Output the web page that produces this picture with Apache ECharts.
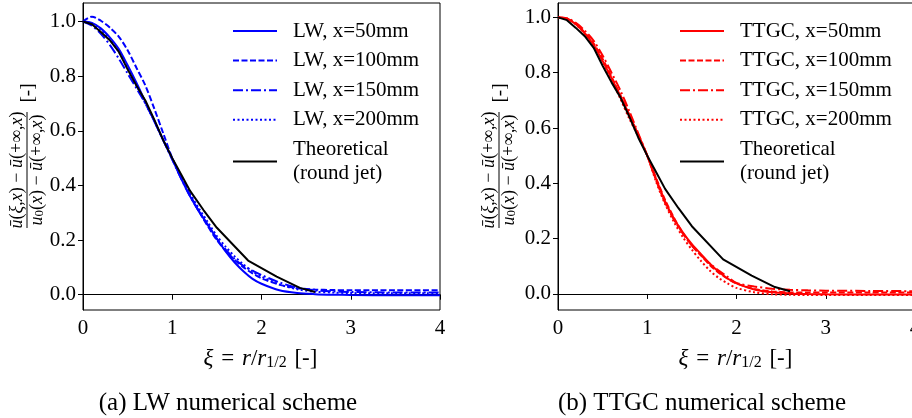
<!DOCTYPE html>
<html><head><meta charset="utf-8">
<script src="https://cdn.jsdelivr.net/npm/echarts@6/dist/echarts.min.js"></script>
<style>html,body{margin:0;padding:0;background:#fff}#c{width:912px;height:418px}</style>
</head><body><div id="c"></div>
<script>
// ---- data ----
const xiNum = [0, 0.1, 0.2, 0.3, 0.4, 0.5, 0.6, 0.7, 0.8, 0.9, 1.0, 1.1, 1.2, 1.3, 1.4, 1.5, 1.6, 1.7, 1.8, 1.9, 2.0, 2.2, 2.4, 2.6, 2.8, 3.0, 3.5, 4.0];
const lw50  = [1.0, 0.995, 0.975, 0.942, 0.9, 0.84, 0.775, 0.705, 0.635, 0.565, 0.497, 0.425, 0.36, 0.305, 0.255, 0.205, 0.158, 0.118, 0.085, 0.058, 0.04, 0.016, 0.006, 0.002, 0.0, -0.001, -0.002, -0.002];
const lw100 = [1.0, 1.018, 1.003, 0.978, 0.945, 0.895, 0.83, 0.765, 0.68, 0.59, 0.5, 0.43, 0.365, 0.305, 0.25, 0.2, 0.16, 0.127, 0.1, 0.078, 0.06, 0.037, 0.024, 0.019, 0.017, 0.016, 0.016, 0.016];
const lw150 = [1.0, 0.985, 0.955, 0.915, 0.865, 0.81, 0.755, 0.70, 0.635, 0.565, 0.495, 0.425, 0.36, 0.305, 0.255, 0.205, 0.165, 0.13, 0.105, 0.088, 0.072, 0.045, 0.026, 0.016, 0.012, 0.01, 0.008, 0.008];
const lw200 = [1.0, 0.993, 0.97, 0.935, 0.89, 0.83, 0.765, 0.70, 0.635, 0.565, 0.5, 0.43, 0.37, 0.315, 0.265, 0.215, 0.175, 0.14, 0.11, 0.085, 0.066, 0.038, 0.02, 0.011, 0.008, 0.006, 0.005, 0.005];
const ttgc50  = [1.0, 0.995, 0.975, 0.942, 0.9, 0.842, 0.78, 0.715, 0.645, 0.575, 0.5, 0.415, 0.335, 0.272, 0.222, 0.18, 0.145, 0.11, 0.08, 0.056, 0.038, 0.016, 0.006, 0.002, 0.0, -0.001, -0.002, -0.002];
const ttgc100 = [1.0, 0.995, 0.977, 0.945, 0.905, 0.85, 0.785, 0.718, 0.647, 0.574, 0.5, 0.418, 0.34, 0.275, 0.22, 0.175, 0.14, 0.105, 0.077, 0.055, 0.038, 0.018, 0.009, 0.006, 0.005, 0.005, 0.005, 0.005];
const ttgc150 = [1.0, 0.997, 0.98, 0.952, 0.915, 0.862, 0.8, 0.735, 0.66, 0.58, 0.5, 0.41, 0.33, 0.268, 0.218, 0.175, 0.14, 0.11, 0.085, 0.062, 0.04, 0.027, 0.019, 0.015, 0.013, 0.012, 0.011, 0.01];
const ttgc200 = [1.0, 0.995, 0.975, 0.94, 0.897, 0.84, 0.775, 0.705, 0.633, 0.57, 0.5, 0.405, 0.325, 0.26, 0.205, 0.16, 0.12, 0.085, 0.058, 0.038, 0.022, 0.006, -0.001, -0.003, -0.004, -0.004, -0.004, -0.004];
const xiTheory = [0, 0.1, 0.2, 0.3, 0.4, 0.5, 0.6, 0.7, 0.8, 0.9, 1.0, 1.1, 1.2, 1.35, 1.5, 1.85, 2.17, 2.43, 2.6];
const theory   = [1.0, 0.99, 0.962, 0.932, 0.89, 0.825, 0.765, 0.71, 0.64, 0.565, 0.5, 0.44, 0.38, 0.31, 0.245, 0.125, 0.066, 0.025, 0.01];
const xTicks = [0, 1, 2, 3, 4];
const yTicks = [0.0, 0.2, 0.4, 0.6, 0.8, 1.0];
const namesLW = ['LW, x=50mm', 'LW, x=100mm', 'LW, x=150mm', 'LW, x=200mm'];
const namesTTGC = ['TTGC, x=50mm', 'TTGC, x=100mm', 'TTGC, x=150mm', 'TTGC, x=200mm'];
const theoryName = 'Theoretical\n(round jet)';
const captions = ['(a) LW numerical scheme', '(b) TTGC numerical scheme'];

// ---- chart ----
const FONT = 'Liberation Serif';
const dashes = ['solid', [6, 2.5], [10, 3, 2, 3], [2, 2.5]];
const pairs = (xs, ys) => xs.map((x, i) => [x, ys[i]]);

function mkSeries(name, xs, ys, color, dash, idx, smooth) {
  return {
    type: 'line', name, xAxisIndex: idx, yAxisIndex: idx,
    data: pairs(xs, ys), symbol: 'none', smooth: smooth ? 0.3 : false,
    lineStyle: { color, width: 2, type: dash, cap: 'butt' },
    itemStyle: { color }, animation: false, z: name === theoryName ? 3 : 2
  };
}

const series = [];
[lw50, lw100, lw150, lw200].forEach((d, i) => series.push(mkSeries(namesLW[i], xiNum, d, '#0000ff', dashes[i], 0, true)));
series.push(mkSeries(theoryName, xiTheory, theory, '#000000', 'solid', 0, false));
[ttgc50, ttgc100, ttgc150, ttgc200].forEach((d, i) => series.push(mkSeries(namesTTGC[i], xiNum, d, '#ff0000', dashes[i], 1, true)));
series.push(mkSeries(theoryName, xiTheory, theory, '#000000', 'solid', 1, false));

function xAx(idx) {
  return {
    type: 'value', gridIndex: idx, min: 0, max: 4, interval: 1,
    axisLine: { lineStyle: { color: '#000', width: 1 } },
    axisTick: { length: 5, lineStyle: { color: '#000' } },
    axisLabel: { color: '#000', fontFamily: FONT, fontSize: 21, margin: 8,
      customValues: xTicks, formatter: v => String(v) },
    splitLine: { show: false },
    name: '{i|ξ} {n|=} {i|r}/{i|r}{s|1/2} {n|[-]}', nameLocation: 'middle', nameGap: 36,
    nameTextStyle: { color: '#000', fontFamily: FONT, fontSize: 23,
      rich: { i: { fontStyle: 'italic', fontFamily: FONT, fontSize: 23, color: '#000' },
              n: { fontFamily: FONT, fontSize: 23, color: '#000', padding: [0, 2, 0, 2] },
              s: { fontFamily: FONT, fontSize: 16, color: '#000', verticalAlign: 'bottom', padding: [9, 0, 0, 0] } } }
  };
}
function yAx(idx, min, max) {
  return {
    type: 'value', gridIndex: idx, min, max,
    axisLine: { lineStyle: { color: '#000', width: 1 } },
    axisTick: { length: 5, customValues: yTicks, lineStyle: { color: '#000' } },
    axisLabel: { color: '#000', fontFamily: FONT, fontSize: 21, margin: 7,
      customValues: yTicks, formatter: v => v.toFixed(1) },
    splitLine: { show: false }
  };
}

function legend(left, names) {
  return {
    orient: 'vertical', left, top: 19, padding: 0, data: names.concat([theoryName]),
    itemWidth: 44, itemHeight: 14, itemGap: 5.6, selectedMode: false,
    itemStyle: { opacity: 0 },
    textStyle: { fontFamily: FONT, fontSize: 21, color: '#000', lineHeight: 24, padding: [0, 0, 0, 11] }
  };
}

function yLabel(cx, cy) {
  const rich = { i: { fontStyle: 'italic', fontFamily: FONT, fontSize: 18, fill: '#000' },
                 n: { fontFamily: FONT, fontSize: 18, fill: '#000' },
                 s: { fontFamily: FONT, fontSize: 13, fill: '#000', padding: [6, 0, 0, 0] } };
  return [
    { type: 'text', x: cx - 10, y: cy, rotation: Math.PI / 2, silent: true,
      style: { text: '{i|ū}{n|(}{i|ξ}{n|,}{i|x}{n|) − }{i|ū}{n|(+∞,}{i|x}{n|)}', rich, align: 'center', verticalAlign: 'middle' } },
    { type: 'line', silent: true, shape: { x1: cx, y1: cy - 58, x2: cx, y2: cy + 58 }, style: { stroke: '#000', lineWidth: 1 } },
    { type: 'text', x: cx + 10, y: cy, rotation: Math.PI / 2, silent: true,
      style: { text: '{i|u}{s|0}{n|(}{i|x}{n|) − }{i|ū}{n|(+∞,}{i|x}{n|)}', rich, align: 'center', verticalAlign: 'middle' } },
    { type: 'text', x: cx + 1, y: 93, rotation: Math.PI / 2, silent: true,
      style: { text: '[-]', fontFamily: FONT, fontSize: 19, fill: '#000', align: 'center', verticalAlign: 'middle' } }
  ];
}

const chart = echarts.init(document.getElementById('c'));
chart.setOption({
  backgroundColor: '#fff',
  animation: false,
  grid: [
    { left: 83, top: 3, width: 357, height: 307, show: true, borderColor: '#000', borderWidth: 1, containLabel: false, outerBoundsMode: 'none' },
    { left: 558, top: 3, width: 357, height: 307, show: true, borderColor: '#000', borderWidth: 1, containLabel: false, outerBoundsMode: 'none' }
  ],
  xAxis: [xAx(0), xAx(1)],
  yAxis: [yAx(0, -0.056, 1.068), yAx(1, -0.058, 1.052)],
  legend: [legend(232, namesLW), legend(679, namesTTGC)],
  series,
  graphic: [
    ...yLabel(27, 170),
    ...yLabel(499, 170),
    { type: 'text', x: 228, y: 403, silent: true, style: { text: captions[0], fontFamily: FONT, fontSize: 25, fill: '#000', align: 'center', verticalAlign: 'middle' } },
    { type: 'text', x: 702, y: 403, silent: true, style: { text: captions[1], fontFamily: FONT, fontSize: 25, fill: '#000', align: 'center', verticalAlign: 'middle' } }
  ]
});
</script></body></html>
